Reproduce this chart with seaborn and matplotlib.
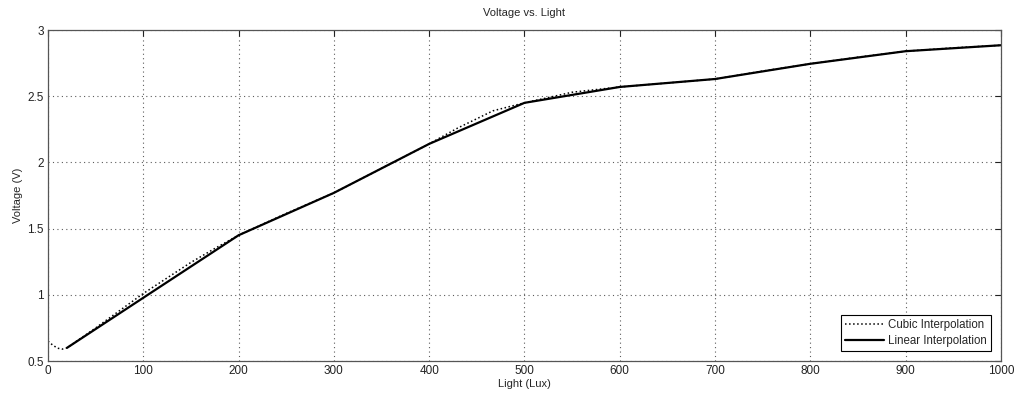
import matplotlib
matplotlib.use("Agg")
import matplotlib.pyplot as plt
import seaborn as sns
import pandas as pd

# Linear interpolation (data points)
lin_lux = [20, 200, 300, 400, 500, 600, 700, 800, 900, 1000]
lin_volt = [0.60, 1.45, 1.77, 2.14, 2.45, 2.57, 2.63, 2.745, 2.84, 2.885]

# Cubic interpolation curve
cub_lux = [0, 5, 10, 15, 20, 50, 100, 150, 175, 200, 250, 300, 350, 400, 430, 450,
           467, 500, 550, 600, 650, 700, 750, 800, 850, 900, 950, 1000]
cub_volt = [0.65, 0.62, 0.597, 0.59, 0.60, 0.75, 1.01, 1.245, 1.35, 1.45, 1.615, 1.77,
            1.955, 2.14, 2.26, 2.33, 2.39, 2.45, 2.53, 2.57, 2.60, 2.63, 2.69, 2.745,
            2.795, 2.84, 2.865, 2.885]

x_ticks = [0, 100, 200, 300, 400, 500, 600, 700, 800, 900, 1000]
y_ticks = [0.5, 1, 1.5, 2, 2.5, 3]
y_tick_labels = ["0.5", "1", "1.5", "2", "2.5", "3"]

sns.set_style("white")
plt.rcParams['font.family'] = ['Liberation Sans', 'DejaVu Sans']

fig = plt.figure(figsize=(10.17, 3.95), dpi=100)
ax = fig.add_axes([0.0472, 0.086, 0.937, 0.838])

cub = pd.DataFrame({"Light": cub_lux, "Voltage": cub_volt})
lin = pd.DataFrame({"Light": lin_lux, "Voltage": lin_volt})

sns.lineplot(data=cub, x="Light", y="Voltage", ax=ax, color="black",
             linestyle=":", linewidth=1.1, label="Cubic Interpolation")
sns.lineplot(data=lin, x="Light", y="Voltage", ax=ax, color="black",
             linestyle="-", linewidth=1.6, label="Linear Interpolation")

ax.set_xlim(0, 1000)
ax.set_ylim(0.5, 3)
ax.set_xticks(x_ticks)
ax.set_yticks(y_ticks)
ax.set_yticklabels(y_tick_labels)
ax.grid(True, linestyle=(0, (1, 3)), color="#333333", linewidth=0.8, alpha=0.8)
ax.tick_params(direction="in", length=4, width=0.8, top=True, right=True,
               labelsize=8.5, colors="#222222", pad=3)
for s in ax.spines.values():
    s.set_color("#555555")
    s.set_linewidth(0.9)

ax.set_title("Voltage vs. Light", fontsize=8, pad=10)
ax.set_xlabel("Light (Lux)", fontsize=8, labelpad=1)
ax.set_ylabel("Voltage (V)", fontsize=8, labelpad=3)

leg = ax.legend(loc="lower right", fontsize=8.3, frameon=True, fancybox=False,
                edgecolor="black", framealpha=1, handlelength=3.4,
                borderaxespad=0.9, handletextpad=0.3, borderpad=0.35,
                labelspacing=0.3)
leg.get_frame().set_linewidth(0.8)

fig.savefig("out.png", dpi=100)
